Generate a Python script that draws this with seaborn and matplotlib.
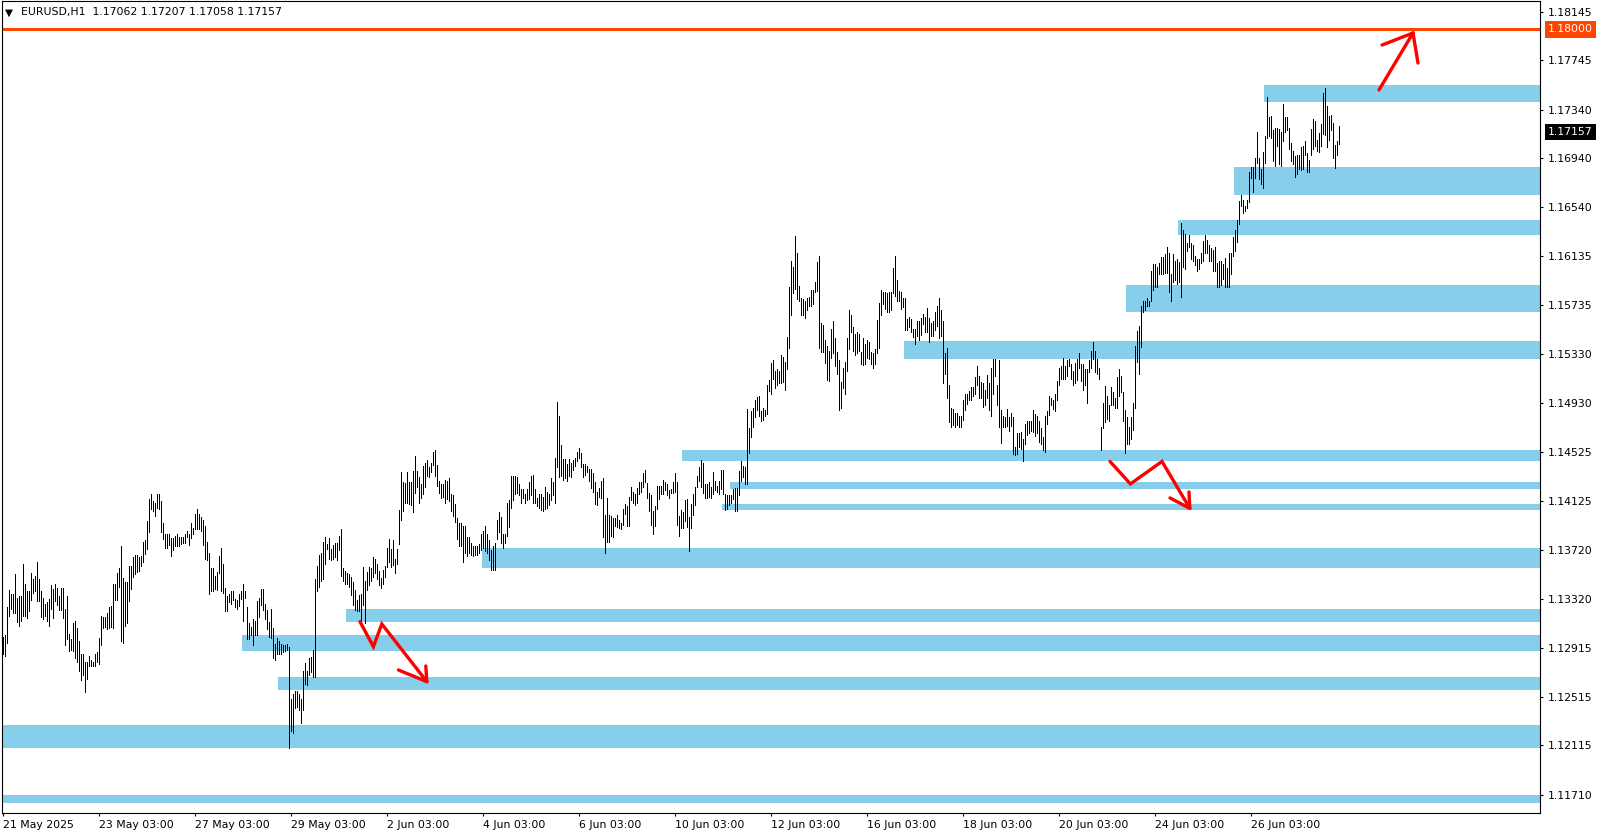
import matplotlib
matplotlib.use("Agg")
import matplotlib.pyplot as plt
import matplotlib.transforms as mtransforms
from matplotlib.patches import Rectangle
import numpy as np
import seaborn as sns

# EURUSD H1 bars, bar 0 = 21 May 2025
highs = [
    1.1301, 1.1302, 1.1325, 1.1339, 1.1336, 1.1336, 1.1352, 1.1333, 1.1334, 1.1334,
    1.1361, 1.1344, 1.1338, 1.1338, 1.1353, 1.1348, 1.1351, 1.1362, 1.1348, 1.1338,
    1.1333, 1.1328, 1.1329, 1.1332, 1.1343, 1.1340, 1.1344, 1.1341, 1.1334, 1.1341,
    1.1341, 1.1324, 1.1334, 1.1303, 1.1299, 1.1312, 1.1314, 1.1308, 1.1297, 1.1287,
    1.1287, 1.1280, 1.1280, 1.1285, 1.1282, 1.1280, 1.1287, 1.1288, 1.1300, 1.1318,
    1.1317, 1.1317, 1.1320, 1.1325, 1.1326, 1.1344, 1.1344, 1.1353, 1.1357, 1.1375,
    1.1349, 1.1346, 1.1346, 1.1359, 1.1359, 1.1366, 1.1368, 1.1368, 1.1366, 1.1367,
    1.1379, 1.1380, 1.1396, 1.1414, 1.1418, 1.1412, 1.1411, 1.1418, 1.1418, 1.1412,
    1.1394, 1.1385, 1.1385, 1.1385, 1.1382, 1.1382, 1.1384, 1.1385, 1.1383, 1.1383,
    1.1383, 1.1385, 1.1388, 1.1385, 1.1394, 1.1390, 1.1402, 1.1406, 1.1402, 1.1399,
    1.1397, 1.1392, 1.1379, 1.1370, 1.1357, 1.1357, 1.1351, 1.1354, 1.1367, 1.1374,
    1.1361, 1.1341, 1.1334, 1.1336, 1.1338, 1.1338, 1.1332, 1.1331, 1.1336, 1.1338,
    1.1344, 1.1338, 1.1325, 1.1312, 1.1309, 1.1315, 1.1314, 1.1330, 1.1333, 1.1340,
    1.1340, 1.1328, 1.1323, 1.1313, 1.1324, 1.1308, 1.1295, 1.1300, 1.1297, 1.1295,
    1.1294, 1.1294, 1.1295, 1.1292, 1.1250, 1.1254, 1.1256, 1.1256, 1.1254, 1.1250,
    1.1273, 1.1279, 1.1273, 1.1283, 1.1284, 1.1290, 1.1348, 1.1359, 1.1368, 1.1370,
    1.1379, 1.1383, 1.1377, 1.1382, 1.1373, 1.1376, 1.1378, 1.1378, 1.1384, 1.1389,
    1.1357, 1.1355, 1.1353, 1.1352, 1.1350, 1.1346, 1.1339, 1.1331, 1.1335, 1.1336,
    1.1358, 1.1347, 1.1354, 1.1358, 1.1357, 1.1366, 1.1365, 1.1361, 1.1355, 1.1349,
    1.1356, 1.1359, 1.1374, 1.1381, 1.1373, 1.1380, 1.1365, 1.1373, 1.1405, 1.1436,
    1.1428, 1.1427, 1.1436, 1.1428, 1.1428, 1.1437, 1.1449, 1.1437, 1.1432, 1.1426,
    1.1441, 1.1444, 1.1446, 1.1440, 1.1444, 1.1453, 1.1454, 1.1442, 1.1429, 1.1426,
    1.1426, 1.1430, 1.1429, 1.1431, 1.1418, 1.1417, 1.1410, 1.1398, 1.1394, 1.1394,
    1.1392, 1.1392, 1.1383, 1.1383, 1.1378, 1.1375, 1.1375, 1.1375, 1.1377, 1.1385,
    1.1388, 1.1392, 1.1385, 1.1380, 1.1372, 1.1375, 1.1378, 1.1397, 1.1403, 1.1399,
    1.1385, 1.1385, 1.1411, 1.1413, 1.1433, 1.1433, 1.1433, 1.1432, 1.1426, 1.1422,
    1.1422, 1.1418, 1.1422, 1.1428, 1.1433, 1.1434, 1.1422, 1.1415, 1.1418, 1.1418,
    1.1416, 1.1424, 1.1420, 1.1418, 1.1431, 1.1428, 1.1448, 1.1494, 1.1482, 1.1458,
    1.1447, 1.1447, 1.1443, 1.1447, 1.1444, 1.1446, 1.1448, 1.1453, 1.1456, 1.1452,
    1.1443, 1.1443, 1.1441, 1.1439, 1.1439, 1.1435, 1.1428, 1.1420, 1.1423, 1.1429,
    1.1431, 1.1401, 1.1415, 1.1401, 1.1400, 1.1398, 1.1398, 1.1401, 1.1397, 1.1394,
    1.1406, 1.1410, 1.1408, 1.1416, 1.1424, 1.1420, 1.1418, 1.1423, 1.1428, 1.1428,
    1.1435, 1.1438, 1.1427, 1.1419, 1.1417, 1.1404, 1.1408, 1.1425, 1.1425, 1.1425,
    1.1430, 1.1428, 1.1426, 1.1421, 1.1422, 1.1428, 1.1435, 1.1428, 1.1400, 1.1405,
    1.1403, 1.1413, 1.1414, 1.1399, 1.1410, 1.1418, 1.1424, 1.1433, 1.1440, 1.1446,
    1.1444, 1.1426, 1.1426, 1.1428, 1.1424, 1.1436, 1.1429, 1.1425, 1.1429, 1.1438,
    1.1438, 1.1418, 1.1417, 1.1417, 1.1417, 1.1422, 1.1423, 1.1423, 1.1437, 1.1445,
    1.1441, 1.1440, 1.1488, 1.1472, 1.1486, 1.1489, 1.1495, 1.1498, 1.1499, 1.1486,
    1.1489, 1.1487, 1.1508, 1.1512, 1.1526, 1.1528, 1.1519, 1.1521, 1.1519, 1.1532,
    1.1531, 1.1527, 1.1547, 1.1588, 1.1610, 1.1605, 1.1630, 1.1616, 1.1589, 1.1579,
    1.1578, 1.1577, 1.1579, 1.1580, 1.1586, 1.1586, 1.1592, 1.1609, 1.1614, 1.1559,
    1.1557, 1.1545, 1.1540, 1.1536, 1.1554, 1.1560, 1.1546, 1.1535, 1.1528, 1.1510,
    1.1522, 1.1527, 1.1546, 1.1569, 1.1565, 1.1555, 1.1550, 1.1551, 1.1550, 1.1535,
    1.1546, 1.1541, 1.1545, 1.1543, 1.1535, 1.1534, 1.1537, 1.1561, 1.1575, 1.1586,
    1.1584, 1.1584, 1.1583, 1.1584, 1.1584, 1.1604, 1.1614, 1.1594, 1.1585, 1.1584,
    1.1579, 1.1579, 1.1562, 1.1564, 1.1562, 1.1554, 1.1554, 1.1560, 1.1560, 1.1563,
    1.1566, 1.1564, 1.1571, 1.1563, 1.1559, 1.1560, 1.1568, 1.1573, 1.1579, 1.1569,
    1.1560, 1.1534, 1.1538, 1.1508, 1.1489, 1.1488, 1.1485, 1.1485, 1.1482, 1.1482,
    1.1495, 1.1500, 1.1500, 1.1503, 1.1506, 1.1506, 1.1514, 1.1523, 1.1515, 1.1510,
    1.1509, 1.1504, 1.1516, 1.1509, 1.1522, 1.1529, 1.1529, 1.1508, 1.1528, 1.1487,
    1.1482, 1.1481, 1.1488, 1.1481, 1.1485, 1.1481, 1.1457, 1.1468, 1.1468, 1.1469,
    1.1463, 1.1476, 1.1478, 1.1478, 1.1478, 1.1487, 1.1484, 1.1482, 1.1478, 1.1472,
    1.1465, 1.1482, 1.1486, 1.1499, 1.1497, 1.1495, 1.1500, 1.1511, 1.1522, 1.1523,
    1.1530, 1.1523, 1.1528, 1.1529, 1.1525, 1.1519, 1.1526, 1.1529, 1.1534, 1.1525,
    1.1525, 1.1521, 1.1521, 1.1528, 1.1536, 1.1543, 1.1536, 1.1529, 1.1522, 1.1473,
    1.1493, 1.1507, 1.1499, 1.1491, 1.1506, 1.1502, 1.1497, 1.1514, 1.1521, 1.1515,
    1.1502, 1.1487, 1.1481, 1.1473, 1.1481, 1.1493, 1.1540, 1.1552, 1.1556, 1.1573,
    1.1577, 1.1577, 1.1579, 1.1577, 1.1601, 1.1607, 1.1607, 1.1605, 1.1608, 1.1613,
    1.1613, 1.1615, 1.1621, 1.1616, 1.1599, 1.1615, 1.1610, 1.1611, 1.1609, 1.1641,
    1.1635, 1.1632, 1.1624, 1.1631, 1.1624, 1.1623, 1.1614, 1.1611, 1.1611, 1.1616,
    1.1626, 1.1631, 1.1627, 1.1623, 1.1620, 1.1619, 1.1621, 1.1608, 1.1610, 1.1610,
    1.1607, 1.1612, 1.1604, 1.1616, 1.1616, 1.1629, 1.1635, 1.1643, 1.1659, 1.1664,
    1.1660, 1.1655, 1.1660, 1.1683, 1.1687, 1.1687, 1.1694, 1.1716, 1.1694, 1.1685,
    1.1699, 1.1712, 1.1744, 1.1728, 1.1729, 1.1717, 1.1719, 1.1719, 1.1718, 1.1716,
    1.1739, 1.1728, 1.1728, 1.1719, 1.1707, 1.1700, 1.1696, 1.1697, 1.1697, 1.1703,
    1.1704, 1.1708, 1.1698, 1.1693, 1.1718, 1.1726, 1.1725, 1.1709, 1.1715, 1.1722,
    1.1748, 1.1752, 1.1737, 1.1729, 1.1730, 1.1723, 1.1705, 1.1708, 1.17207,
]
lows = [
    1.1287, 1.1285, 1.1296, 1.1318, 1.1324, 1.1320, 1.1320, 1.1313, 1.1310, 1.1314,
    1.1318, 1.1318, 1.1316, 1.1322, 1.1331, 1.1337, 1.1338, 1.1330, 1.1330, 1.1317,
    1.1315, 1.1318, 1.1314, 1.1310, 1.1324, 1.1316, 1.1330, 1.1327, 1.1323, 1.1323,
    1.1316, 1.1294, 1.1299, 1.1289, 1.1290, 1.1289, 1.1283, 1.1280, 1.1273, 1.1265,
    1.1269, 1.1255, 1.1266, 1.1277, 1.1277, 1.1277, 1.1277, 1.1280, 1.1278, 1.1294,
    1.1308, 1.1309, 1.1307, 1.1308, 1.1309, 1.1308, 1.1331, 1.1331, 1.1342, 1.1297,
    1.1296, 1.1310, 1.1312, 1.1330, 1.1340, 1.1350, 1.1352, 1.1354, 1.1355, 1.1359,
    1.1362, 1.1369, 1.1373, 1.1387, 1.1406, 1.1404, 1.1400, 1.1407, 1.1406, 1.1387,
    1.1381, 1.1374, 1.1374, 1.1376, 1.1367, 1.1372, 1.1375, 1.1375, 1.1375, 1.1377,
    1.1378, 1.1378, 1.1383, 1.1376, 1.1382, 1.1385, 1.1389, 1.1389, 1.1389, 1.1388,
    1.1376, 1.1365, 1.1364, 1.1336, 1.1338, 1.1338, 1.1340, 1.1339, 1.1353, 1.1338,
    1.1337, 1.1322, 1.1322, 1.1329, 1.1328, 1.1331, 1.1325, 1.1324, 1.1326, 1.1332,
    1.1314, 1.1333, 1.1299, 1.1299, 1.1302, 1.1294, 1.1302, 1.1302, 1.1317, 1.1327,
    1.1323, 1.1315, 1.1307, 1.1301, 1.1300, 1.1283, 1.1282, 1.1287, 1.1287, 1.1287,
    1.1288, 1.1289, 1.1290, 1.1209, 1.1223, 1.1222, 1.1242, 1.1243, 1.1241, 1.1230,
    1.1241, 1.1262, 1.1261, 1.1269, 1.1272, 1.1268, 1.1268, 1.1338, 1.1342, 1.1347,
    1.1348, 1.1361, 1.1373, 1.1365, 1.1364, 1.1365, 1.1366, 1.1364, 1.1372, 1.1351,
    1.1347, 1.1344, 1.1344, 1.1342, 1.1335, 1.1327, 1.1323, 1.1322, 1.1322, 1.1313,
    1.1327, 1.1312, 1.1339, 1.1343, 1.1347, 1.1350, 1.1353, 1.1348, 1.1343, 1.1341,
    1.1344, 1.1350, 1.1358, 1.1362, 1.1358, 1.1360, 1.1353, 1.1361, 1.1377, 1.1397,
    1.1404, 1.1411, 1.1411, 1.1410, 1.1409, 1.1403, 1.1419, 1.1424, 1.1411, 1.1415,
    1.1418, 1.1424, 1.1433, 1.1432, 1.1436, 1.1442, 1.1433, 1.1425, 1.1419, 1.1415,
    1.1416, 1.1411, 1.1414, 1.1412, 1.1404, 1.1400, 1.1395, 1.1381, 1.1375, 1.1375,
    1.1362, 1.1370, 1.1367, 1.1370, 1.1368, 1.1367, 1.1368, 1.1368, 1.1370, 1.1372,
    1.1374, 1.1371, 1.1370, 1.1364, 1.1356, 1.1356, 1.1356, 1.1381, 1.1387, 1.1378,
    1.1374, 1.1378, 1.1384, 1.1391, 1.1407, 1.1413, 1.1418, 1.1419, 1.1417, 1.1411,
    1.1415, 1.1411, 1.1413, 1.1414, 1.1417, 1.1411, 1.1411, 1.1408, 1.1407, 1.1405,
    1.1404, 1.1406, 1.1407, 1.1409, 1.1413, 1.1417, 1.1411, 1.1440, 1.1432, 1.1433,
    1.1430, 1.1431, 1.1429, 1.1433, 1.1432, 1.1438, 1.1441, 1.1445, 1.1448, 1.1440,
    1.1432, 1.1434, 1.1436, 1.1429, 1.1423, 1.1420, 1.1410, 1.1409, 1.1416, 1.1415,
    1.1383, 1.1370, 1.1379, 1.1379, 1.1384, 1.1383, 1.1392, 1.1391, 1.1390, 1.1389,
    1.1393, 1.1402, 1.1392, 1.1392, 1.1413, 1.1411, 1.1409, 1.1411, 1.1418, 1.1420,
    1.1424, 1.1428, 1.1415, 1.1404, 1.1393, 1.1385, 1.1392, 1.1406, 1.1414, 1.1418,
    1.1418, 1.1421, 1.1417, 1.1415, 1.1419, 1.1419, 1.1420, 1.1393, 1.1384, 1.1390,
    1.1390, 1.1396, 1.1391, 1.1371, 1.1390, 1.1401, 1.1409, 1.1424, 1.1429, 1.1424,
    1.1419, 1.1415, 1.1415, 1.1416, 1.1415, 1.1418, 1.1421, 1.1420, 1.1418, 1.1422,
    1.1418, 1.1405, 1.1406, 1.1409, 1.1411, 1.1414, 1.1404, 1.1404, 1.1417, 1.1429,
    1.1432, 1.1426, 1.1426, 1.1452, 1.1465, 1.1473, 1.1481, 1.1487, 1.1482, 1.1478,
    1.1479, 1.1482, 1.1484, 1.1503, 1.1500, 1.1513, 1.1505, 1.1508, 1.1509, 1.1509,
    1.1510, 1.1504, 1.1521, 1.1538, 1.1565, 1.1583, 1.1587, 1.1578, 1.1577, 1.1565,
    1.1565, 1.1563, 1.1569, 1.1573, 1.1573, 1.1574, 1.1584, 1.1585, 1.1538, 1.1535,
    1.1535, 1.1526, 1.1512, 1.1511, 1.1530, 1.1534, 1.1523, 1.1517, 1.1487, 1.1489,
    1.1505, 1.1500, 1.1519, 1.1537, 1.1551, 1.1536, 1.1532, 1.1534, 1.1536, 1.1525,
    1.1524, 1.1525, 1.1530, 1.1529, 1.1525, 1.1522, 1.1525, 1.1534, 1.1538, 1.1565,
    1.1574, 1.1570, 1.1568, 1.1568, 1.1569, 1.1583, 1.1581, 1.1577, 1.1577, 1.1570,
    1.1572, 1.1553, 1.1553, 1.1555, 1.1551, 1.1547, 1.1541, 1.1548, 1.1545, 1.1549,
    1.1558, 1.1551, 1.1551, 1.1543, 1.1548, 1.1548, 1.1553, 1.1556, 1.1546, 1.1548,
    1.1509, 1.1517, 1.1497, 1.1477, 1.1473, 1.1475, 1.1473, 1.1475, 1.1473, 1.1473,
    1.1479, 1.1487, 1.1492, 1.1495, 1.1495, 1.1499, 1.1500, 1.1508, 1.1497, 1.1497,
    1.1490, 1.1491, 1.1497, 1.1487, 1.1482, 1.1500, 1.1515, 1.1491, 1.1473, 1.1460,
    1.1473, 1.1473, 1.1474, 1.1470, 1.1474, 1.1451, 1.1450, 1.1451, 1.1457, 1.1455,
    1.1445, 1.1459, 1.1467, 1.1468, 1.1470, 1.1469, 1.1466, 1.1468, 1.1461, 1.1459,
    1.1454, 1.1453, 1.1476, 1.1483, 1.1491, 1.1488, 1.1486, 1.1495, 1.1508, 1.1513,
    1.1513, 1.1513, 1.1515, 1.1523, 1.1513, 1.1508, 1.1509, 1.1512, 1.1522, 1.1511,
    1.1504, 1.1508, 1.1493, 1.1518, 1.1522, 1.1529, 1.1518, 1.1517, 1.1513, 1.1454,
    1.1472, 1.1477, 1.1480, 1.1478, 1.1491, 1.1491, 1.1489, 1.1489, 1.1499, 1.1502,
    1.1478, 1.1452, 1.1459, 1.1459, 1.1463, 1.1471, 1.1489, 1.1527, 1.1517, 1.1539,
    1.1568, 1.1569, 1.1573, 1.1573, 1.1577, 1.1586, 1.1588, 1.1588, 1.1599, 1.1599,
    1.1599, 1.1600, 1.1600, 1.1584, 1.1577, 1.1592, 1.1594, 1.1591, 1.1592, 1.1580,
    1.1605, 1.1603, 1.1618, 1.1621, 1.1611, 1.1610, 1.1606, 1.1601, 1.1603, 1.1608,
    1.1610, 1.1616, 1.1616, 1.1610, 1.1610, 1.1601, 1.1601, 1.1588, 1.1588, 1.1590,
    1.1595, 1.1588, 1.1588, 1.1588, 1.1599, 1.1614, 1.1618, 1.1625, 1.1640, 1.1655,
    1.1649, 1.1651, 1.1653, 1.1658, 1.1678, 1.1666, 1.1678, 1.1690, 1.1677, 1.1673,
    1.1670, 1.1690, 1.1711, 1.1712, 1.1711, 1.1692, 1.1688, 1.1704, 1.1689, 1.1688,
    1.1708, 1.1716, 1.1717, 1.1702, 1.1692, 1.1689, 1.1679, 1.1681, 1.1685, 1.1684,
    1.1685, 1.1697, 1.1683, 1.1683, 1.1697, 1.1702, 1.1704, 1.1700, 1.1699, 1.1704,
    1.1714, 1.1713, 1.1703, 1.1709, 1.1717, 1.1694, 1.1686, 1.1697, 1.17058,
]

last_ohlc = [1.17062, 1.17207, 1.17058, 1.17157]

date_ticks = [0, 48, 96, 144, 192, 240, 288, 336, 384, 432, 480, 528, 576, 624]
date_labels = ["21 May 2025", "23 May 03:00", "27 May 03:00", "29 May 03:00",
               "2 Jun 03:00", "4 Jun 03:00", "6 Jun 03:00", "10 Jun 03:00",
               "12 Jun 03:00", "16 Jun 03:00", "18 Jun 03:00", "20 Jun 03:00",
               "24 Jun 03:00", "26 Jun 03:00"]

price_ticks = [1.18145, 1.17745, 1.17340, 1.16940, 1.16540, 1.16135, 1.15735,
               1.15330, 1.14930, 1.14525, 1.14125, 1.13720, 1.13320, 1.12915,
               1.12515, 1.12115, 1.11710]

# support / resistance zones: first bar, lower and upper price
zone_start = [631, 616, 588, 562, 451, 340, 364, 360, 240, 172, 120, 138, 0, 0]
zone_low = [1.1740, 1.1664, 1.1631, 1.1568, 1.1529, 1.1445, 1.1422, 1.1405,
            1.1357, 1.1313, 1.1289, 1.1257, 1.1209, 1.1164]
zone_high = [1.1754, 1.1687, 1.1643, 1.1590, 1.1544, 1.1454, 1.1428, 1.1410,
             1.1374, 1.1324, 1.1302, 1.1268, 1.1228, 1.1171]

level_price = 1.18000

# hand drawn arrows (bar index, price)
arrow_paths = [
    ([178.5, 185.2, 189.4, 211.9], [1.13132, 1.12926, 1.13113, 1.12639]),
    ([553.5, 563.7, 579.5, 593.4], [1.14449, 1.14264, 1.14449, 1.14063]),
    ([688.0, 705.0], [1.17502, 1.17970]),
]
arrow_barbs = [
    [(197.7, 1.12735), (211.4, 1.12768)],
    [(583.5, 1.14149), (593.0, 1.14198)],
    [(689.5, 1.17871), (707.5, 1.17723)],
]

sns.set_theme(style="white")
plt.rcParams['font.family'] = ['DejaVu Sans']

W, H = 1604, 838
fig = plt.figure(figsize=(W / 100, H / 100), dpi=100)
ax = fig.add_axes([2 / W, (H - 813.3) / H, 1538 / W, 812.3 / H])

xmax = 768.5
ax.set_xlim(-0.5, xmax)
ax.set_ylim(1.11557, 1.18233)

for s, lo, hi in zip(zone_start, zone_low, zone_high):
    ax.add_patch(Rectangle((s - 0.5, lo), xmax - s + 2, hi - lo,
                           facecolor='#87CEEB', edgecolor='none', zorder=1))

idx = np.arange(len(highs))
ax.vlines(idx, lows, highs, color='black', linewidth=0.6,
          antialiased=False, zorder=3)

ax.axhline(level_price, color='#FF4500', linewidth=2.2, zorder=2)

for (px, py), barbs in zip(arrow_paths, arrow_barbs):
    ax.plot(px, py, color='#FF0000', linewidth=2.4, solid_joinstyle='miter', zorder=4)
    for bx, by in barbs:
        ax.plot([bx, px[-1]], [by, py[-1]], color='#FF0000', linewidth=2.4, zorder=4)

for sp in ax.spines.values():
    sp.set_visible(True)
    sp.set_color('black')
    sp.set_linewidth(0.8)

ax.yaxis.tick_right()
ax.set_yticks(price_ticks)
ax.set_yticklabels([f"{p:.5f}" for p in price_ticks])
ax.set_xticks(date_ticks)
ax.set_xticklabels(date_labels, ha='left')
ax.tick_params(axis='y', which='both', right=True, left=False, direction='out',
               length=2.5, width=0.8, pad=3.2, labelsize=7.8, colors='black')
ax.tick_params(axis='x', which='both', bottom=True, direction='out',
               length=2.5, width=0.8, pad=2.0, labelsize=7.8, colors='black')
ax.grid(False)

# price labels on the right scale
trans = mtransforms.blended_transform_factory(ax.transAxes, ax.transData)
ax.annotate(f"{level_price:.5f}", xy=(1.0, level_price), xycoords=trans,
            xytext=(5.6, 0), textcoords='offset points', ha='left', va='center',
            fontsize=7.8, color='white', annotation_clip=False,
            bbox=dict(boxstyle='square,pad=0.3', facecolor='#FF4500', edgecolor='none'))
ax.annotate(f"{last_ohlc[3]:.5f}", xy=(1.0, last_ohlc[3]), xycoords=trans,
            xytext=(5.6, 0), textcoords='offset points', ha='left', va='center',
            fontsize=7.8, color='white', annotation_clip=False,
            bbox=dict(boxstyle='square,pad=0.3', facecolor='black', edgecolor='none'))

header = "EURUSD,H1  " + " ".join(f"{v:.5f}" for v in last_ohlc)
fig.text(21 / W, 1 - 12.5 / H, header, fontsize=7.8, color='black',
         ha='left', va='center')
fig.text(5 / W, 1 - 12.5 / H, "\u25BC", fontsize=7.5, color='black',
         ha='left', va='center')

fig.savefig("out.png", dpi=100, facecolor='white')
